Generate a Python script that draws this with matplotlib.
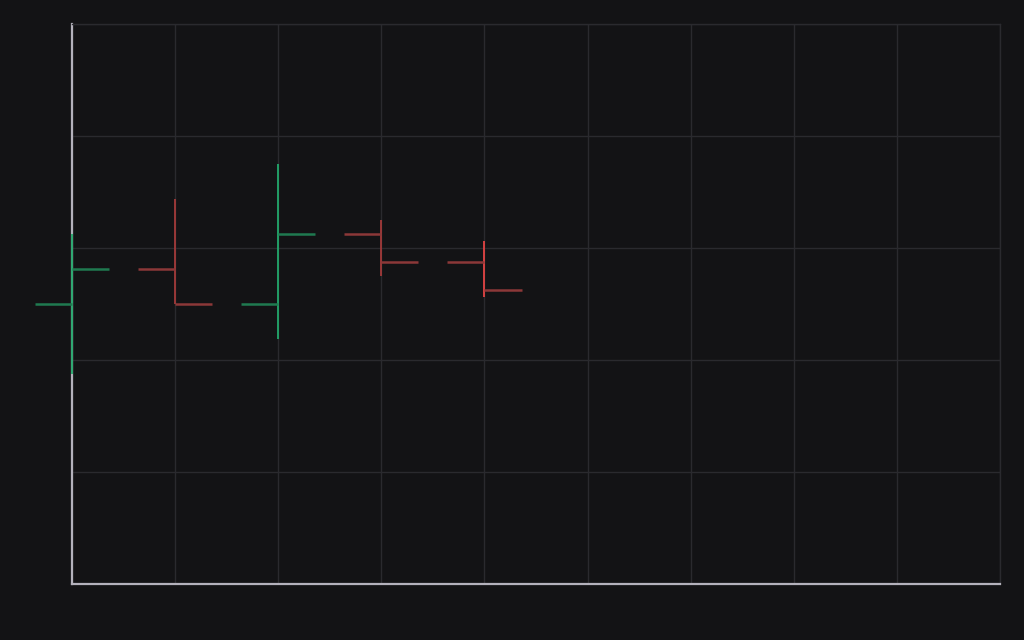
import numpy as np
import matplotlib
matplotlib.use("Agg")
import matplotlib.pyplot as plt

# OHLC data (arbitrary units)
idx = [0, 1, 2, 3, 4]
opens = [2.5, 2.8125, 2.5, 3.125, 2.875]
highs = [3.125, 3.4375, 3.75, 3.25, 3.0625]
lows = [1.875, 2.5, 2.1875, 2.75, 2.5625]
closes = [2.8125, 2.5, 3.125, 2.875, 2.625]
wick_colors = ['#22a86b', '#a33a3a', '#22a86b', '#a33a3a', '#e44444']
tick_colors = ['#1f7a50', '#8c3838', '#1f7a50', '#8c3838', '#8c3838']

bg = '#131315'
fig = plt.figure(figsize=(10.24, 6.4), dpi=100, facecolor=bg)
ax = fig.add_axes([72/1024, 56/640, 928/1024, 560/640], facecolor=bg)

tw = 0.36
for i, o, h, l, c, wc, tc in zip(idx, opens, highs, lows, closes, wick_colors, tick_colors):
    ax.vlines(i, l, h, color=wc, lw=1.3, zorder=3, clip_on=False)
    ax.hlines(o, i - tw, i, color=tc, lw=1.8, zorder=3, clip_on=False)
    ax.hlines(c, i, i + tw, color=tc, lw=1.8, zorder=3, clip_on=False)

ax.set_xlim(0, 9)
ax.set_ylim(0, 5)
ax.set_xticks(np.arange(0, 10))
ax.set_yticks(np.arange(0, 6))
ax.tick_params(length=0, labelleft=False, labelbottom=False)
ax.grid(True, color='#2a2a2e', lw=1)
ax.set_axisbelow(True)

for s in ['top', 'right']:
    ax.spines[s].set_color('#2a2a2e')
    ax.spines[s].set_linewidth(1)
for s in ['left', 'bottom']:
    ax.spines[s].set_color('#b4b2bc')
    ax.spines[s].set_linewidth(1.6)

fig.savefig('out.png', dpi=100, facecolor=bg)
